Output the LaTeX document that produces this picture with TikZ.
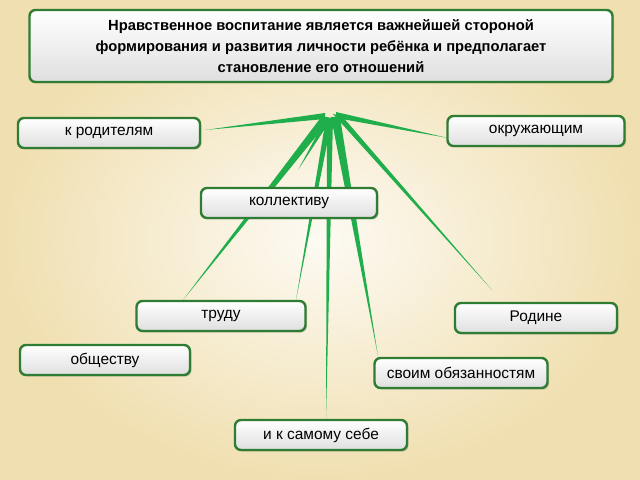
\documentclass[tikz,border=0pt]{standalone}
\usepackage{fontspec}
\setmainfont{Liberation Sans}
\usetikzlibrary{shadows}
\definecolor{bgc}{HTML}{F0DFB0}
\definecolor{grn}{HTML}{1FAE4B}
\definecolor{bord}{HTML}{2E7D32}
\begin{document}
\begin{tikzpicture}[x=1bp,y=-1bp,
  box/.style={draw=bord,line width=2.4bp,rounded corners=6bp,top color=white,bottom color=gray!25,
    minimum height=30bp,font=\fontsize{15.5}{18}\selectfont,drop shadow={opacity=0.35,shadow xshift=1.5bp,shadow yshift=-1.5bp}},
  wedge/.style={fill=grn,draw=none}]
\useasboundingbox (0,0) rectangle (640,480);
\shade[inner color=white!85!bgc,outer color=bgc] (0,0) rectangle (640,480);
% wedges
\fill[wedge] (325,113)--(325,119)--(205,130)--cycle;
\fill[wedge] (336,112)--(336,118)--(448,138)--cycle;
\fill[wedge] (322,116)--(331,118)--(183,300)--cycle;
\fill[wedge] (325,120)--(330,121)--(298,170)--cycle;
\fill[wedge] (326,118)--(332,119)--(296,300)--cycle;
\fill[wedge] (327,118)--(333,118)--(326,420)--cycle;
\fill[wedge] (331,117)--(340,117)--(378,356)--cycle;
\fill[wedge] (333,114)--(342,116)--(492,290)--cycle;
\node[box,minimum width=583bp,minimum height=72bp,align=center,font=\bfseries\fontsize{14.8}{21}\selectfont] (t) at (321,46)
 {Нравственное воспитание является важнейшей стороной\\формирования и развития личности ребёнка и предполагает\\становление его отношений};
\node[box,minimum width=182bp] (a) at (109,133) {к родителям};
\node[box,minimum width=177bp] (b) at (536,131) {окружающим};
\node[box,minimum width=176bp] (c) at (289,203) {коллективу};
\node[box,minimum width=169bp] (d) at (221,316) {труду};
\node[box,minimum width=162bp] (e) at (536,318) {Родине};
\node[box,minimum width=170bp] (f) at (105,360) {обществу};
\node[box,minimum width=173bp] (g) at (461,373) {своим обязанностям};
\node[box,minimum width=172bp] (k) at (321,435) {и к самому себе};
\end{tikzpicture}
\end{document}
